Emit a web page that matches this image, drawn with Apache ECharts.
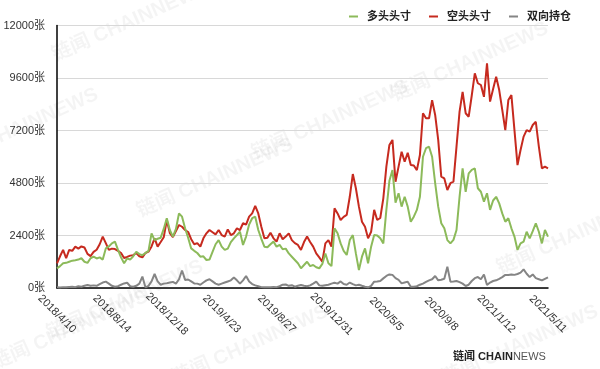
<!DOCTYPE html>
<html>
<head>
<meta charset="utf-8">
<script src="https://cdn.jsdelivr.net/npm/echarts@6/dist/echarts.min.js"></script>
<style>html,body{margin:0;padding:0;background:#fff;}#c{width:600px;height:369px;}</style>
</head>
<body>
<div id="c"></div>
<script>
// weekly data from 2018/4/10 to 2021/5/11 (162 weeks)
var startDate = [2018, 4, 10];
var weekCount = 162;
var tickLabels = ['2018/4/10','2018/8/14','2018/12/18','2019/4/23','2019/8/27','2019/12/31','2020/5/5','2020/9/8','2021/1/12','2021/5/11'];
var seriesNames = ['多头头寸','空头头寸','双向持仓'];
var yTicks = [0, 2400, 4800, 7200, 9600, 12000];

var longPos = [
900,1000,1130,1150,1200,1250,1270,1300,1360,1200,
1150,1360,1430,1350,1400,1300,1810,1900,2040,2120,
1740,1400,1130,1350,1300,1450,1660,1550,1500,1600,
1700,2500,2190,2250,2300,2700,3190,2650,2350,2700,
3410,3260,2730,2300,1810,1700,1600,1430,1450,1280,
1300,1650,2000,2190,1890,1740,1800,2100,2270,2420,
2570,1970,2350,2900,3190,3260,2650,2250,1890,1860,
2000,2120,1890,1970,1770,1800,1580,1430,1280,1130,
900,1050,1200,1000,1050,950,900,1100,1580,1130,
1000,2730,2500,2040,1700,1510,2190,2420,1580,820,
1430,1810,1130,1890,2420,2400,2270,2040,3570,4900,
5390,3900,4330,3720,4170,3720,3030,3260,3570,4170,
6000,6390,6460,6000,4790,3720,2960,2730,2190,2040,
2200,2650,4170,5470,4400,5240,5400,5470,4560,4400,
3950,4330,3570,4000,4170,3870,3410,3030,3190,2730,
2350,1740,2040,2120,2570,2270,2600,2960,2570,2040,
2650,2350];

var shortPos = [
1130,1450,1740,1360,1740,1700,1890,1800,1900,1850,
1560,1460,1650,1750,2000,2350,2050,1740,1800,1780,
1700,1600,1370,1420,1480,1500,1600,1450,1400,1600,
1660,1900,2270,1890,2100,2320,3110,2510,2330,2600,
2880,2800,2650,2560,2230,2000,2050,1890,2270,2500,
2650,2550,2450,2650,2420,2350,2680,2420,2500,2730,
2650,2960,2900,3260,3410,3750,3410,2800,2270,2300,
2530,2270,2120,2500,2230,2350,2500,2190,2050,1970,
1740,2100,2350,2100,1890,1580,1400,1200,2040,2190,
1890,3640,3410,3110,3250,3340,4170,5210,4560,3720,
3030,2800,2270,2570,3570,3110,3200,4100,5550,6540,
6770,4860,5550,6230,5770,6180,5620,5600,5390,6080,
7990,7760,7760,8590,7910,6770,5090,5010,4480,4790,
4860,6460,8060,8970,7990,7830,8800,9810,9360,9280,
8740,10270,8520,9100,9660,9050,8140,7220,8590,8820,
7220,5620,6310,6920,7220,7150,7450,7600,6460,5470,
5550,5470];

var bothPos = [
30,20,40,30,50,60,40,80,60,100,
140,100,120,100,180,250,290,200,100,60,
80,150,210,240,80,60,100,200,520,30,
100,300,640,300,150,200,220,250,280,200,
400,800,370,390,300,210,200,150,250,350,
400,300,200,150,200,250,300,350,480,350,
200,350,550,300,180,120,80,40,30,40,
30,50,40,80,150,160,100,130,60,100,
140,100,80,120,200,290,120,100,130,150,
200,240,200,300,180,150,250,180,120,150,
100,60,30,100,290,300,320,440,550,620,
600,450,370,210,250,290,60,60,80,150,
200,280,350,400,550,350,380,420,970,290,
300,320,270,200,90,150,320,450,500,400,
620,140,250,320,350,420,500,600,590,620,
600,640,700,850,650,500,620,450,400,350,
420,490];

var categories = [];
(function(){
  var d = new Date(Date.UTC(startDate[0], startDate[1]-1, startDate[2]));
  for (var i = 0; i < weekCount; i++) {
    categories.push(d.getUTCFullYear() + '/' + (d.getUTCMonth()+1) + '/' + d.getUTCDate());
    d = new Date(d.getTime() + 7*86400000);
  }
})();

var FONT = '"Liberation Sans","Noto Sans CJK SC",sans-serif';
var wm = [];
var wmPos = [[130,22],[20,128],[215,178],[470,62],[575,235],[70,330],[250,345],[125,300],[520,345],[330,120]];
wmPos.forEach(function(p){
  wm.push({type:'text', x:p[0], y:p[1], rotation:0.42, z:-10, silent:true,
    style:{text:'链闻 CHAINNEWS', fill:'rgba(0,0,0,0.045)', font:'bold 20px ' + FONT, align:'center', verticalAlign:'middle'}});
});
wm.push({type:'text', left:453, top:351, z:10, silent:true,
  style:{text:'{a|链闻 CHAIN}{b|NEWS}', rich:{a:{fill:'#222', font:'bold 11px ' + FONT}, b:{fill:'#555', font:'11px ' + FONT}}}});

var chart = echarts.init(document.getElementById('c'), null, {renderer:'canvas'});
chart.setOption({
  animation:false,
  backgroundColor:'#fff',
  textStyle:{fontFamily:FONT},
  graphic: wm,
  legend:{
    right:24, top:6, itemGap:18, itemWidth:9, itemHeight:2, icon:'rect',
    textStyle:{fontSize:11, color:'#222', fontWeight:'bold', padding:[0,0,0,4]},
    data: seriesNames
  },
  grid:{left:57, right:52, top:25.5, bottom:81, containLabel:false},
  xAxis:{
    type:'category', boundaryGap:false, data:categories,
    axisLine:{lineStyle:{color:'#000', width:1.5}},
    axisTick:{show:false},
    axisLabel:{
      interval:function(idx, val){ return tickLabels.indexOf(val) >= 0; },
      rotate:-45, align:'center', verticalAlign:'middle', margin:26,
      fontSize:11, color:'#333', fontFamily:FONT
    },
    splitLine:{show:false}
  },
  yAxis:{
    type:'value', min:yTicks[0], max:yTicks[yTicks.length-1], interval:2400,
    axisLine:{show:true, lineStyle:{color:'#000', width:1.5}},
    axisTick:{show:false},
    axisLabel:{formatter:function(v){ return String(v) + '张'; }, fontSize:11, color:'#333', margin:12, fontFamily:FONT},
    splitLine:{lineStyle:{color:'#d8d8d8', width:1}}
  },
  series:[
    {name:seriesNames[0], type:'line', data:longPos, symbol:'none', lineStyle:{width:2, color:'#8cba5a'}, itemStyle:{color:'#8cba5a'}, z:3},
    {name:seriesNames[1], type:'line', data:shortPos, symbol:'none', lineStyle:{width:2, color:'#c62a1f'}, itemStyle:{color:'#c62a1f'}, z:2},
    {name:seriesNames[2], type:'line', data:bothPos, symbol:'none', lineStyle:{width:2, color:'#858585'}, itemStyle:{color:'#858585'}, z:4}
  ]
});
</script>
</body>
</html>
